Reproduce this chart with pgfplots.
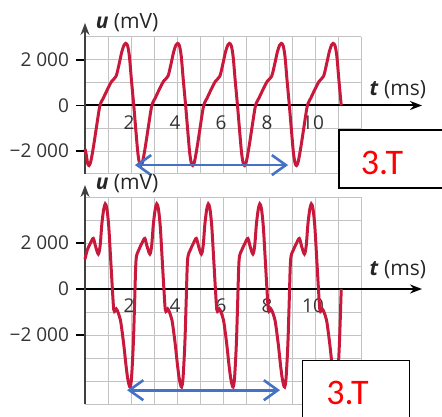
\documentclass[border=0pt]{standalone}
\usepackage{fontspec}
\setmainfont{Open Sans}
\newfontfamily\boxfont{Carlito}
\usepackage{pgfplots}
\pgfplotsset{compat=1.18}
\usetikzlibrary{arrows.meta}

\definecolor{signal}{RGB}{200,25,60}
\definecolor{arrowblue}{RGB}{68,114,196}
\definecolor{gridgray}{RGB}{195,195,195}

\pgfplotsset{
  oscillo/.style={
    scale only axis, width=138pt,
    xmin=0, xmax=12,
    axis lines=middle,
    clip=false,
    /pgf/number format/assume math mode=true,
    xtick={2,4,...,10},
    xticklabels={2,4,6,8,10},
    minor xtick={0,1,...,12},
    ytick={-2000,0,2000},
    yticklabels={−2 000,0,2 000},
    hide obscured x ticks=false, hide obscured y ticks=false,
    grid=both,
    major grid style={gridgray, line width=0.5pt},
    minor grid style={gridgray, line width=0.5pt},
    tick align=outside,
    major tick length=4.5pt,
    minor tick length=0pt,
    xtick style={draw=none},
    ytick style={black, line width=0.8pt},
    tick label style={font=\fontsize{9.5}{11}\selectfont, text=black!80},
    xticklabel style={xshift=-1pt, yshift=3pt},
    x axis line style={-{Stealth[length=6pt,width=4.5pt]}, shorten >=-30.5pt, black, line width=1pt},
    y axis line style={-{Stealth[length=6pt,width=4.5pt]}, shorten >=-7pt, black!75, line width=0.8pt},
  },
  signalplot/.style={signal, line width=1.5pt, smooth, tension=0.5, no markers},
  spanarrow/.style={arrowblue, line width=1.3pt, no markers,
    arrows={Straight Barb[length=7pt,width=10pt]-Straight Barb[length=7pt,width=10pt]}},
}
\tikzset{axlabel/.style={font=\fontsize{10.5}{12}\selectfont, text=black!85, inner sep=0pt}}

\begin{document}
\begin{tikzpicture}
\useasboundingbox (0,0) rectangle (221pt,208pt);

% upper trace
\begin{axis}[oscillo, at={(42.5pt,121pt)}, anchor=south west, height=68.5pt,
  ymin=-3000, ymax=3000, minor ytick={-3000,-1000,1000,3000}]
\addplot[signalplot] coordinates {
 (0,-1900) (0.045,-2100) (0.115,-2530) (0.175,-2630) (0.24,-2500) (0.31,-2150)
 (0.40,-1600) (0.52,-800) (0.65,0) (0.80,330) (0.95,650) (1.16,1060) (1.35,1280)
 (1.48,1800) (1.60,2350) (1.70,2650) (1.77,2720) (1.85,2620) (1.93,2150) (2.02,1100)
 (2.12,0) (2.22,-1200) (2.30,-2100) (2.37,-2530) (2.43,-2630)
 (2.495,-2500) (2.565,-2150) (2.655,-1600) (2.775,-800) (2.905,0) (3.055,330)
 (3.205,650) (3.415,1060) (3.605,1280) (3.735,1800) (3.855,2350) (3.955,2650)
 (4.025,2720) (4.105,2620) (4.185,2150) (4.275,1100) (4.375,0) (4.475,-1200)
 (4.555,-2100) (4.625,-2530) (4.685,-2630)
 (4.75,-2500) (4.82,-2150) (4.91,-1600) (5.03,-800) (5.16,0) (5.31,330) (5.46,650)
 (5.67,1060) (5.86,1280) (5.99,1800) (6.11,2350) (6.21,2650) (6.28,2720) (6.36,2620)
 (6.44,2150) (6.53,1100) (6.63,0) (6.73,-1200) (6.81,-2100) (6.88,-2530) (6.94,-2630)
 (7.005,-2500) (7.075,-2150) (7.165,-1600) (7.285,-800) (7.415,0) (7.565,330)
 (7.715,650) (7.925,1060) (8.115,1280) (8.245,1800) (8.365,2350) (8.465,2650)
 (8.535,2720) (8.615,2620) (8.695,2150) (8.785,1100) (8.885,0) (8.985,-1200)
 (9.065,-2100) (9.135,-2530) (9.195,-2630)
 (9.26,-2500) (9.33,-2150) (9.42,-1600) (9.54,-800) (9.67,0) (9.82,330) (9.97,650)
 (10.18,1060) (10.37,1280) (10.50,1800) (10.62,2350) (10.72,2650) (10.79,2720)
 (10.87,2620) (10.95,2150) (11.04,1100) (11.14,0)
};
\addplot[spanarrow] coordinates {(2.17,-2610) (8.83,-2610)};
\node[axlabel, anchor=east] at (axis cs:14.85,680) {\textbf{\textit{t}} (ms)};
\node[axlabel, anchor=west] at (axis cs:0.45,3640) {\textbf{\textit{u}} (mV)};
\end{axis}

% lower trace
\begin{axis}[oscillo, at={(42.5pt,6pt)}, anchor=south west, height=103.5pt,
  ymin=-5000, ymax=4000, minor ytick={-5000,-4000,-3000,-1000,1000,3000,4000},
  y axis line style={shorten >=-6pt}]
\addplot[signalplot] coordinates {
 (0,1300) (0.10,1700) (0.24,2000) (0.36,2200) (0.46,1850) (0.58,1520) (0.66,1900)
 (0.73,2800) (0.81,3450) (0.88,3700) (0.95,3500) (1.03,2750) (1.11,1400) (1.19,0)
 (1.25,-900) (1.31,-950) (1.36,-870) (1.43,-1000) (1.54,-1350) (1.62,-1900)
 (1.70,-2550) (1.78,-3300) (1.85,-3850) (1.91,-4150) (1.96,-4260) (2.02,-3900)
 (2.10,-2400) (2.16,-500)
 (2.22,1270) (2.34,1700) (2.48,2000) (2.60,2200) (2.70,1850) (2.82,1520) (2.90,1900)
 (2.97,2800) (3.05,3450) (3.12,3700) (3.19,3500) (3.27,2750) (3.35,1400) (3.43,0)
 (3.49,-900) (3.55,-950) (3.60,-870) (3.67,-1000) (3.78,-1350) (3.86,-1900)
 (3.94,-2550) (4.02,-3300) (4.09,-3850) (4.15,-4150) (4.20,-4260) (4.26,-3900)
 (4.34,-2400) (4.40,-500)
 (4.46,1270) (4.58,1700) (4.72,2000) (4.84,2200) (4.94,1850) (5.06,1520) (5.14,1900)
 (5.21,2800) (5.29,3450) (5.36,3700) (5.43,3500) (5.51,2750) (5.59,1400) (5.67,0)
 (5.73,-900) (5.79,-950) (5.84,-870) (5.91,-1000) (6.02,-1350) (6.10,-1900)
 (6.18,-2550) (6.26,-3300) (6.33,-3850) (6.39,-4150) (6.44,-4260) (6.50,-3900)
 (6.58,-2400) (6.64,-500)
 (6.70,1270) (6.82,1700) (6.96,2000) (7.08,2200) (7.18,1850) (7.30,1520) (7.38,1900)
 (7.45,2800) (7.53,3450) (7.60,3700) (7.67,3500) (7.75,2750) (7.83,1400) (7.91,0)
 (7.97,-900) (8.03,-950) (8.08,-870) (8.15,-1000) (8.26,-1350) (8.34,-1900)
 (8.42,-2550) (8.50,-3300) (8.57,-3850) (8.63,-4150) (8.68,-4260) (8.74,-3900)
 (8.82,-2400) (8.88,-500)
 (8.94,1270) (9.06,1700) (9.20,2000) (9.32,2200) (9.42,1850) (9.54,1520) (9.62,1900)
 (9.69,2800) (9.77,3450) (9.84,3700) (9.91,3500) (9.99,2750) (10.07,1400) (10.15,0)
 (10.21,-900) (10.27,-950) (10.32,-870) (10.39,-1000) (10.50,-1350) (10.58,-1900)
 (10.66,-2550) (10.74,-3300) (10.81,-3850) (10.87,-4150) (10.92,-4260) (10.98,-3900)
 (11.06,-2400) (11.14,0)
};
\addplot[spanarrow] coordinates {(1.83,-4400) (8.48,-4400)};
\node[axlabel, anchor=east] at (axis cs:14.85,830) {\textbf{\textit{t}} (ms)};
\node[axlabel, anchor=west] at (axis cs:0.45,4600) {\textbf{\textit{u}} (mV)};
\end{axis}

% boxed notes
\draw[line width=0.7pt, fill=white] (169.5pt,114pt) rectangle (230pt,143pt);
\node[text=red, font=\boxfont\fontsize{18}{20}\selectfont] at (191pt,126.5pt) {3.T};
\draw[line width=0.7pt, fill=white] (151.2pt,-5pt) rectangle (204.6pt,27.65pt);
\node[text=red, font=\boxfont\fontsize{18}{20}\selectfont] at (173.75pt,11.5pt) {3.T};
\end{tikzpicture}
\end{document}
